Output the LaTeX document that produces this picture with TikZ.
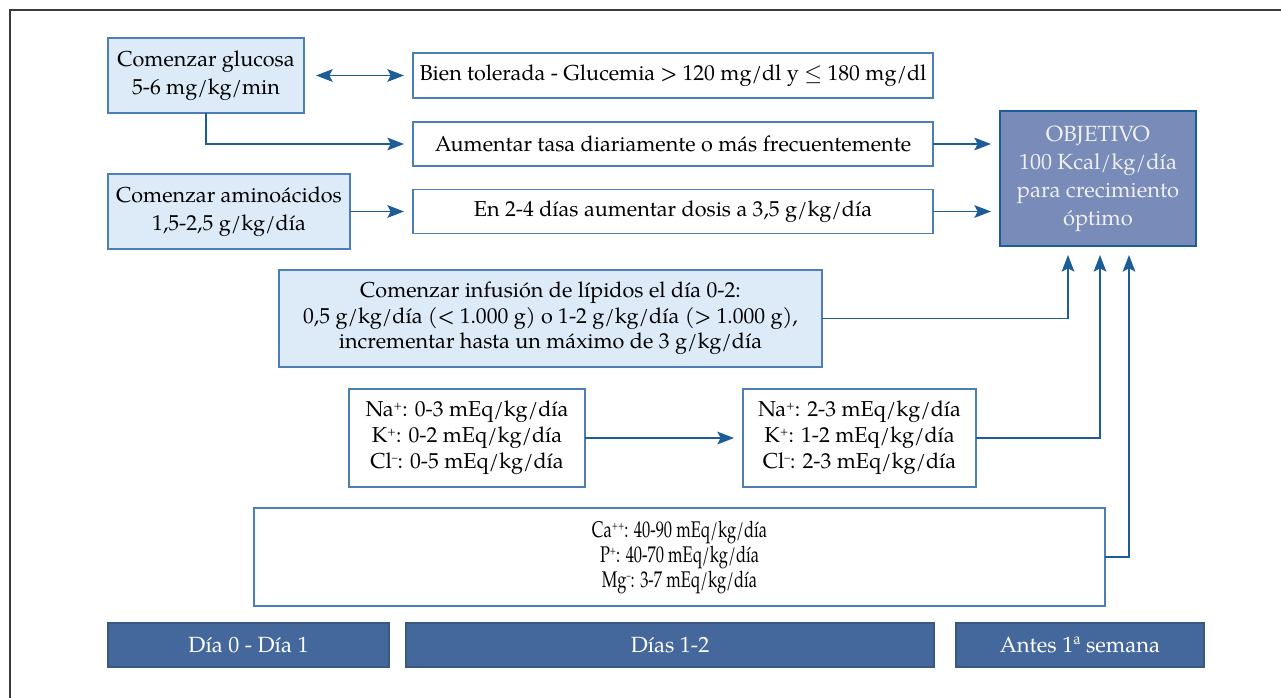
\documentclass[tikz,border=0pt]{standalone}
\usepackage{fontspec}
\setmainfont{TeX Gyre Pagella}
\newfontfamily\condfont[FakeStretch=0.725]{TeX Gyre Pagella}
\usetikzlibrary{arrows.meta}
\definecolor{lb}{HTML}{DDEBF8}
\definecolor{bd}{HTML}{4D7FB6}
\definecolor{ar}{HTML}{1C5C98}
\definecolor{objc}{HTML}{788BB9}
\definecolor{barc}{HTML}{45689C}
\definecolor{frm}{HTML}{3A3A3A}
\newcommand{\sups}[1]{\raisebox{0.7ex}{\fontsize{8.5}{8.5}\selectfont #1}}
\begin{document}
\begin{tikzpicture}[x=0.75pt,y=-0.75pt,
  base/.style={draw=bd, line width=0.9pt, inner sep=0pt, outer sep=0pt, align=center,
    font=\fontsize{16.2}{20}\selectfont},
  lbox/.style={base, fill=lb},
  wbox/.style={base, fill=white},
  objbox/.style={base, fill=objc, draw=ar, text=white!94!black, font=\fontsize{16.5}{21}\selectfont},
  barbox/.style={base, fill=barc, draw=barc!85!black, text=white, font=\fontsize{16.5}{20}\selectfont},
  conn/.style={draw=ar, line width=1pt},
  tip/.tip={Stealth[length=12.5pt,width=9.5pt,inset=2.5pt]},
  arr/.style={conn, -tip, shorten >=6.75pt},
  dbl/.style={conn, tip-tip, shorten <=9pt, shorten >=6.75pt}
]
\useasboundingbox (0,0) rectangle (1281,698);
\draw[frm, line width=1.5pt] (1281,10) -- (9.5,10) -- (9.5,698);

% top rows
\node[lbox, minimum width=147pt, minimum height=56.25pt, font=\fontsize{16.2}{21}\selectfont] (g) at (206,75.5) {Comenzar glucosa\\5-6 mg/kg/min};
\node[wbox, minimum width=390pt, minimum height=33.75pt] (bt) at (673,75.5) {Bien tolerada - Glucemia > 120 mg/dl y $\leq$ 180 mg/dl};
\node[wbox, minimum width=390pt, minimum height=33pt] (at) at (673,144) {Aumentar tasa diariamente o más frecuentemente};
\node[lbox, minimum width=181.5pt, minimum height=56.25pt, font=\fontsize{16.2}{21}\selectfont] (aa) at (229,211.5) {Comenzar aminoácidos\\1,5-2,5 g/kg/día};
\node[wbox, minimum width=390pt, minimum height=33pt] (ed) at (673,211.5) {En 2-4 días aumentar dosis a 3,5 g/kg/día};
\node[objbox, minimum width=147pt, minimum height=101.25pt] (obj) at (1098,178.5) {OBJETIVO\\100 Kcal/kg/día\\para crecimiento\\óptimo};

% lipids
\node[lbox, minimum width=407.25pt, minimum height=72.75pt, font=\fontsize{16.2}{19.2}\selectfont] (lip) at (550.5,318.5) {Comenzar infusión de lípidos el día 0-2:\\0,5 g/kg/día (< 1.000 g) o 1-2 g/kg/día (> 1.000 g),\\incrementar hasta un máximo de 3 g/kg/día};

% electrolytes
\node[wbox, minimum width=177pt, minimum height=73.5pt, font=\fontsize{16.2}{19.5}\selectfont] (e1) at (467,438) {Na\sups{+}: 0-3 mEq/kg/día\\K\sups{+}: 0-2 mEq/kg/día\\Cl\sups{–}: 0-5 mEq/kg/día};
\node[wbox, minimum width=174.75pt, minimum height=73.5pt, font=\fontsize{16.2}{19.5}\selectfont] (e2) at (859.5,438) {Na\sups{+}: 2-3 mEq/kg/día\\K\sups{+}: 1-2 mEq/kg/día\\Cl\sups{–}: 2-3 mEq/kg/día};

% minerals
\node[wbox, minimum width=638.25pt, minimum height=73.5pt, font=\condfont\fontsize{17}{18.75}\selectfont] (ca) at (679.5,557) {Ca\sups{++}: 40-90 mEq/kg/día\\P\sups{+}: 40-70 mEq/kg/día\\Mg\sups{–}: 3-7 mEq/kg/día};

% time bars
\node[barbox, minimum width=210.75pt, minimum height=33pt] (d0) at (248.5,645) {Día 0 - Día 1};
\node[barbox, minimum width=396pt, minimum height=33pt] (d12) at (670,645) {Días 1-2};
\node[barbox, minimum width=186pt, minimum height=33pt] (as) at (1080,645) {Antes 1ª semana};

% objective entry points
\coordinate (o1) at (1068,246);
\coordinate (o2) at (1100,246);
\coordinate (o3) at (1129,246);

% connectors
\draw[dbl] (g.east) -- (bt.west);
\draw[arr] (g.south) |- (at.west);
\draw[arr] (aa.east) -- (aa.east -| ed.west);
\draw[arr] (at.east) -- (at.east -| obj.west);
\draw[arr] (ed.east) -- (ed.east -| obj.west);
\draw[arr] (lip.east) -| (o1);
\draw[arr] (e1.east) -- (e2.west);
\draw[arr] (e2.east) -| (o2);
\draw[arr] (ca.east) -| (o3);
\end{tikzpicture}
\end{document}
